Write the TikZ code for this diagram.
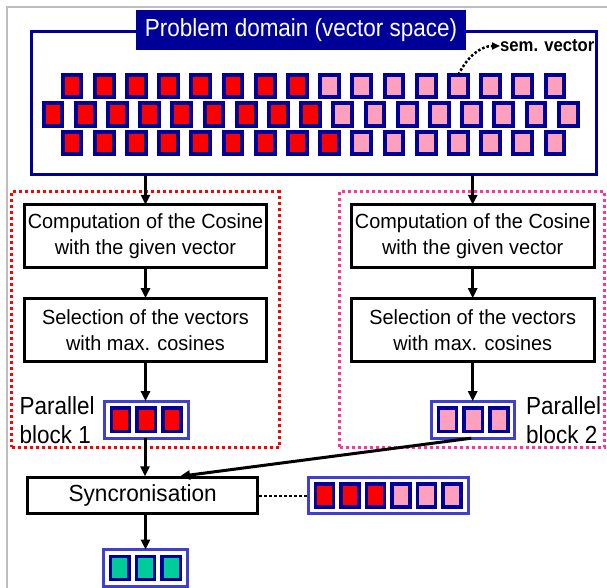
\documentclass[tikz,border=0pt]{standalone}
\usepackage{fontspec}
\setmainfont{Liberation Sans}
\newfontfamily\narrowA[FakeStretch=0.91]{Liberation Sans}
\newfontfamily\narrowB[FakeStretch=0.97]{Liberation Sans}
\usetikzlibrary{arrows.meta,calc}
\definecolor{navyc}{RGB}{0,0,153}
\definecolor{redc}{RGB}{255,0,0}
\definecolor{pinkc}{RGB}{252,160,190}
\definecolor{framec}{RGB}{64,64,208}
\definecolor{greenc}{RGB}{0,204,153}
\definecolor{hotpink}{RGB}{255,51,153}
\definecolor{greyc}{RGB}{190,190,190}
\begin{document}
\begin{tikzpicture}[x=1pt,y=-1pt,
  sq/.style={draw=navyc, line width=4pt, minimum width=18.7pt, minimum height=22.7pt, inner sep=0pt, outer sep=0pt},
  bsq/.style={draw=navyc, line width=3.5pt, minimum width=18.2pt, minimum height=23.2pt, inner sep=0pt, outer sep=0pt},
  blockframe/.style={draw=framec, fill=white, line width=3pt, minimum height=37pt, inner sep=0pt, outer sep=0pt},
  procbox/.style={draw=black, line width=3pt, fill=white, minimum width=242.6pt, minimum height=63pt, inner sep=1pt, outer sep=0pt, align=center, font=\narrowB\fontsize{20.5}{26}\selectfont},
  dotbox/.style={line width=3pt, dash pattern=on 3pt off 3pt, inner sep=0pt, outer sep=0pt},
  arr/.style={line width=3pt, -{Triangle[length=10pt,width=9pt]}},
  lab/.style={align=left, inner sep=0pt, font=\narrowA\fontsize{24.7}{29}\selectfont}
]
\useasboundingbox (0,0) rectangle (607,588);
\fill[white] (0,0) rectangle (607,588);
% grey frame
\draw[greyc, line width=1.5pt] (7,588) -- (7,7) -- (607,7);

% problem domain
\node[draw=navyc, line width=3pt, minimum width=565.5pt, minimum height=143pt, inner sep=0pt] (dom) at (313.75,103.5) {};
\node[fill=navyc, text=white, minimum width=330pt, minimum height=40pt, inner sep=0pt, font=\narrowA\fontsize{24.7}{28}\selectfont] (title) at (301,30) {Problem domain (vector space)};

% rows of vectors
\foreach \k in {0,...,7} \node[sq, fill=redc] (r1-\k) at ({72+32.2*\k},86) {};
\foreach \k in {8,...,15} \node[sq, fill=pinkc] (r1-\k) at ({72+32.2*\k},86) {};
\foreach \k in {0,...,8} \node[sq, fill=redc] (r2-\k) at ({53+32.2*\k},114.2) {};
\foreach \k in {9,...,16} \node[sq, fill=pinkc] (r2-\k) at ({53+32.2*\k},114.2) {};
\foreach \k in {0,...,8} \node[sq, fill=redc] (r3-\k) at ({72+32.2*\k},143) {};
\foreach \k in {9,...,15} \node[sq, fill=pinkc] (r3-\k) at ({72+32.2*\k},143) {};

% sem. vector label
\node[anchor=west, inner sep=0pt, font=\narrowA\fontsize{18.3}{20}\selectfont\bfseries] (sem) at (500,46) {sem. vector};
\draw[line width=2.5pt, dash pattern=on 2.5pt off 2pt, -{Triangle[length=8pt,width=7pt]}]
  (r1-12.north) .. controls +(10,-20) and +(-18,0) .. (sem.west);

% parallel dotted boxes
\node[dotbox, draw=redc, minimum width=267.5pt, minimum height=255.5pt] (pb1) at (145.25,319.25) {};
\node[dotbox, draw=hotpink, minimum width=265pt, minimum height=255.5pt] (pb2) at (472,319.25) {};

% process boxes
\node[procbox] (comp1) at (145.5,236.3) {Computation of the Cosine\\with the given vector};
\node[procbox] (sel1) at (145.5,329.7) {Selection of the vectors\\with max. cosines};
\node[procbox] (comp2) at (472.7,236.3) {Computation of the Cosine\\with the given vector};
\node[procbox] (sel2) at (472.7,329.7) {Selection of the vectors\\with max. cosines};

% parallel blocks
\node[blockframe, minimum width=84.3pt] (blk1) at (146.3,419.7) {};
\foreach \k in {0,1,2} \node[bsq, fill=redc] (b1-\k) at ($(blk1.center)+({(\k-1)*25.7},0)$) {};
\node[blockframe, minimum width=83pt] (blk2) at (473.3,419.7) {};
\foreach \k in {0,1,2} \node[bsq, fill=pinkc] (b2-\k) at ($(blk2.center)+({(\k-1)*25.7},0)$) {};

\node[lab, anchor=west] (lab1) at (19.5,420) {Parallel\\block 1};
\node[lab, anchor=west] (lab2) at (526,420) {Parallel\\block 2};

% syncronisation
\node[draw=black, line width=3pt, fill=white, minimum width=230.3pt, minimum height=35.4pt, inner sep=0pt, font=\narrowB\fontsize{23.3}{26}\selectfont] (sync) at (142.7,495.5) {Syncronisation};

\node[blockframe, minimum width=159.7pt, minimum height=35.4pt] (blk6) at (388.3,495.5) {};
\foreach \k in {0,1,2} \node[bsq, fill=redc] (b6-\k) at ($(blk6.center)+({(\k-2.5)*25.5},0)$) {};
\foreach \k in {3,4,5} \node[bsq, fill=pinkc] (b6-\k) at ($(blk6.center)+({(\k-2.5)*25.5},0)$) {};

\node[blockframe, minimum width=84.6pt] (blkg) at (145.5,568) {};
\foreach \k in {0,1,2} \node[bsq, fill=greenc] (bg-\k) at ($(blkg.center)+({(\k-1)*25.7},0)$) {};

% connectors
\draw[arr] (dom.south -| comp1.north) -- (comp1.north);
\draw[arr] (dom.south -| comp2.north) -- (comp2.north);
\draw[arr] (comp1.south) -- (sel1.north);
\draw[arr] (comp2.south) -- (sel2.north);
\draw[arr] (sel1.south) -- (sel1.south |- blk1.north);
\draw[arr] (sel2.south) -- (sel2.south |- blk2.north);
\draw[arr] (blk1.south -| sync.north) ++(2.3,0) coordinate (s1) -- (s1 |- sync.north);
\draw[arr] ([xshift=-2pt]blk2.south) -- ([xshift=37.3pt]sync.north);
\draw[arr] (blkg.north |- sync.south) -- (blkg.north);
\draw[line width=2pt, dash pattern=on 2.5pt off 2.5pt] (sync.east) -- (blk6.west);
\end{tikzpicture}
\end{document}
